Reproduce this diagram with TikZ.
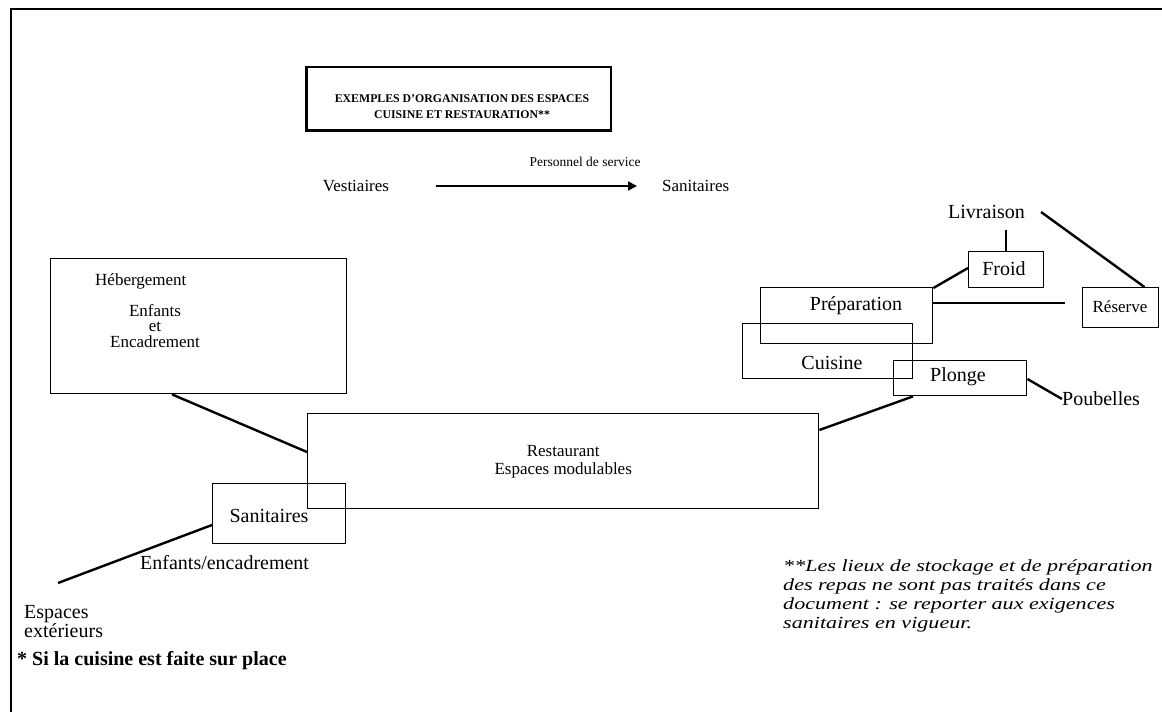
\documentclass[tikz,border=0pt]{standalone}
\usepackage{fontspec}
\setmainfont{Liberation Serif}
\newfontfamily\noteit{Liberation Serif}[FakeStretch=1.3]
\usetikzlibrary{arrows.meta,calc}
\begin{document}
\begin{tikzpicture}[x=1pt,y=-1pt,
  box/.style={draw, line width=1.4pt, rectangle, inner sep=0pt, anchor=north west},
  lbl/.style={inner sep=0pt, font=\fontsize{17}{19}\selectfont},
  big/.style={inner sep=0pt, font=\fontsize{20}{19}\selectfont},
  conn/.style={line width=2.4pt},
]
\useasboundingbox (0,0) rectangle (1162,712);
% page frame
\draw[line width=2.6pt] (1162,9) -- (11,9) -- (11,712);

% title
\node[box, line width=2.4pt, minimum width=305pt, minimum height=64pt] (title) at (305,66) {};
\draw[line width=2pt] ([xshift=2pt,yshift=-1pt]title.north west) -- ([xshift=2pt,yshift=2pt]title.south west) -- ([yshift=2pt]title.south east);
\node[inner sep=0pt, align=center, font=\bfseries\fontsize{11.8}{16}\selectfont] (titletext) at (462,107)
  {EXEMPLES D'ORGANISATION DES ESPACES\\CUISINE ET RESTAURATION**};

% personnel de service
\node[lbl] (vest) at (356,186) {Vestiaires};
\node[lbl, anchor=west] (sanh) at (662,186) {Sanitaires};
\node[inner sep=0pt, font=\fontsize{13.5}{15}\selectfont] (pers) at (585,162) {Personnel de service};
\draw[line width=1.8pt, -{Triangle[length=9pt,width=9pt]}] ([xshift=47pt]vest.east) -- ([xshift=-25pt]sanh.west);

% boxes
\node[box, minimum width=296pt, minimum height=135pt] (heb) at (50,258) {};
\node[box, minimum width=511pt, minimum height=95pt] (rest) at (307,413) {};
\node[box, minimum width=133pt, minimum height=60pt] (sanb) at (212,483) {};
\node[box, minimum width=172pt, minimum height=56pt] (prep) at (760,287) {};
\node[box, minimum width=170pt, minimum height=55pt] (cuis) at (742,323) {};
\node[box, minimum width=133pt, minimum height=35pt] (plonge) at (893,360) {};
\node[box, minimum width=75pt, minimum height=36pt] (froid) at (968,251) {};
\node[box, minimum width=76pt, minimum height=40pt] (reserve) at (1082,287) {};

% box texts
\node[lbl, anchor=west] (hebt) at (95,281) {Hébergement};
\node[lbl, align=center, font=\fontsize{17}{15.5}\selectfont] (enft) at (155,326) {Enfants\\et\\Encadrement};
\node[lbl, align=center, font=\fontsize{17}{18}\selectfont] (restt) at ([yshift=-1pt]rest.center) {Restaurant\\Espaces modulables};
\node[big] (sant) at (269,516) {Sanitaires};
\node[big] (prept) at (856,306) {Préparation};
\node[big] (cuist) at (832,363) {Cuisine};
\node[big] (plonget) at (958,377) {Plonge};
\node[big] (froidt) at (1004,269) {Froid};
\node[lbl] (reservet) at (1120,307) {Réserve};

% free labels
\node[big, anchor=west] (livr) at (948,212) {Livraison};
\node[big, anchor=west] (poub) at (1062,399) {Poubelles};
\node[big, anchor=west] (enfenc) at (140,563) {Enfants/encadrement};
\node[big, anchor=north west, align=left] (ext) at (24,605) {Espaces\\extérieurs};
\node[inner sep=0pt, anchor=west, font=\bfseries\fontsize{20}{19}\selectfont] (star) at (17,661) {* Si la cuisine est faite sur place};
\node[inner sep=0pt, anchor=north west, align=left, font=\noteit\itshape\fontsize{17}{19}\selectfont] (note) at (783,559)
  {**Les lieux de stockage et de préparation\\des repas ne sont pas traités dans ce\\document : se reporter aux exigences\\sanitaires en vigueur.};

% connectors
\coordinate (extend) at (58,583);
\coordinate (prepend) at (1065,303);
\draw[conn] ([xshift=122pt]heb.south west) -- ([yshift=-39pt]rest.north west);
\draw[conn] ([yshift=-42pt]sanb.north west) -- (extend);
\draw[conn] ([yshift=-17pt]rest.north east) -- ([xshift=20pt]plonge.south west);
\draw[conn] ([yshift=-19pt]plonge.north east) -- (poub.west);
\draw[conn] ([yshift=-1pt]prep.north east) -- ([yshift=-17pt]froid.north west);
\draw[line width=1.6pt] ([yshift=-16pt]prep.north east) -- (prepend);
\draw[conn] ([yshift=21pt]froid.north) -- (froid.north);
\draw[conn] ([xshift=16pt]livr.east) -- ([xshift=-15pt]reserve.north east);
\end{tikzpicture}
\end{document}
